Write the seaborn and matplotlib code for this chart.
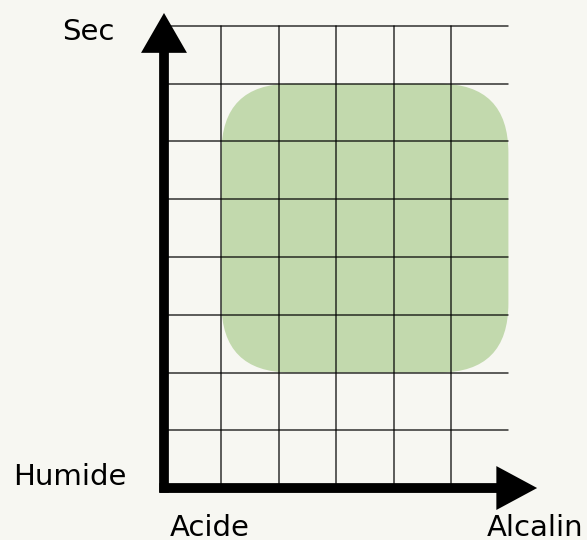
import matplotlib
matplotlib.use("Agg")
import matplotlib.pyplot as plt
from matplotlib.patches import FancyBboxPatch, FancyArrow
import seaborn as sns

# Data
grid_x = [1, 2, 3, 4, 5]
grid_y = [1, 2, 3, 4, 5, 6, 7, 8]
grid_xmax = 6
grid_ymax = 8
zone_x = [1, 6]
zone_y = [2, 7]
label_top = "Sec"
label_bottom = "Humide"
label_left = "Acide"
label_right = "Alcalin"

BG = "#f7f7f2"
GREEN = "#c2d9ad"

sns.set_theme(style="white")
plt.rcParams["font.family"] = ["DejaVu Sans"]

fig = plt.figure(figsize=(5.87, 5.40), dpi=100, facecolor=BG)
ax = fig.add_axes([0, 0, 1, 1])
ax.set_facecolor(BG)
ax.set_xlim(-2.857, 7.369)
ax.set_ylim(-0.90, 8.45)
ax.axis("off")

# green zone
r = 1.2
zone = FancyBboxPatch((zone_x[0] + r, zone_y[0] + r),
                      (zone_x[1] - zone_x[0]) - 2 * r, (zone_y[1] - zone_y[0]) - 2 * r,
                      boxstyle=f"round,pad={r}", fc=GREEN, ec="none", zorder=1)
ax.add_patch(zone)

# grid
for gx in grid_x:
    ax.plot([gx, gx], [0, grid_ymax], color="black", lw=1.1, alpha=0.8, zorder=2)
for gy in grid_y:
    ax.plot([0, grid_xmax], [gy, gy], color="black", lw=1.1, alpha=0.8, zorder=2)

# axes arrows
ax.add_patch(FancyArrow(0, -0.08, 0, 8.225 + 0.08, width=0.17, head_width=0.8,
                        head_length=0.69, length_includes_head=True,
                        fc="black", ec="none", zorder=3))
ax.add_patch(FancyArrow(-0.08, 0, 6.5 + 0.08, 0, width=0.17, head_width=0.76,
                        head_length=0.71, length_includes_head=True,
                        fc="black", ec="none", zorder=3))

fs = 21
ax.text(-1.32, 7.9, label_top, ha="center", va="center", fontsize=fs, color="black")
ax.text(-1.64, 0.19, label_bottom, ha="center", va="center", fontsize=fs, color="black")
ax.text(0.80, -0.69, label_left, ha="center", va="center", fontsize=fs, color="black")
ax.text(5.63, -0.69, label_right, ha="left", va="center", fontsize=fs, color="black")

fig.savefig("out.png", dpi=100, facecolor=BG)
